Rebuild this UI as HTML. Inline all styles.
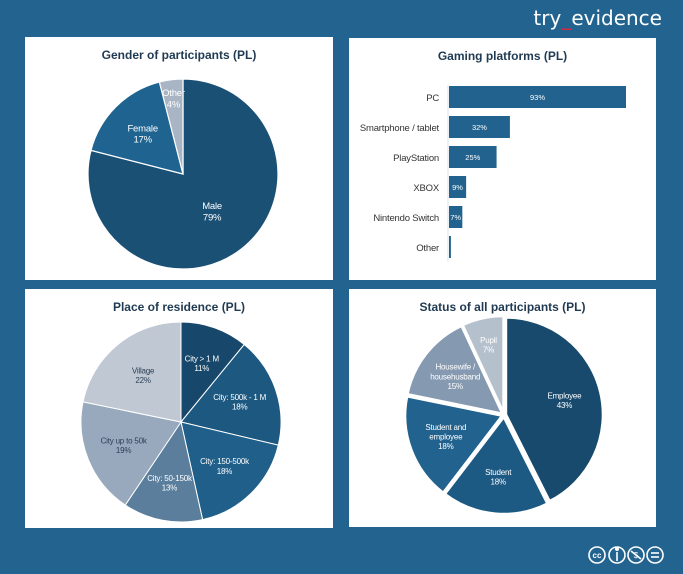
<!DOCTYPE html>
<html><head><meta charset="utf-8"><style>
body{margin:0;width:683px;height:574px;background:#22648f;overflow:hidden;font-family:"Liberation Sans",sans-serif;}
svg{display:block}
</style></head><body>
<svg width="683" height="574">
<g id="root"></g>
<text x="662" y="25" text-anchor="end" font-size="20" fill="#fff" font-family="DejaVu Sans, sans-serif">try<tspan fill="#e0223a">_</tspan>evidence</text>
<g fill="none" stroke="#fff" stroke-width="1.6">
<circle cx="597" cy="555" r="8"/><circle cx="617" cy="555" r="8"/><circle cx="636" cy="555" r="8"/><circle cx="655" cy="555" r="8"/>
<text x="597" y="558" font-size="8" text-anchor="middle" fill="#fff" stroke="none" font-weight="bold">cc</text>
<line x1="617" y1="552" x2="617" y2="561"/><circle cx="617" cy="549" r="1.2" fill="#fff"/>
<line x1="631" y1="551" x2="641" y2="559"/><text x="636" y="558" font-size="8" text-anchor="middle" fill="#fff" stroke="none">$</text>
<line x1="651" y1="553" x2="659" y2="553"/><line x1="651" y1="557" x2="659" y2="557"/>
</g>
</svg>
<script>
const genderLabels=["Male","Female","Other"];
const genderValues=[79,17,4];
const platformLabels=["PC","Smartphone / tablet","PlayStation","XBOX","Nintendo Switch","Other"];
const platformValues=[93,32,25,9,7,1];
const residenceLabels=[["City > 1 M"],["City: 500k - 1 M"],["City: 150-500k"],["City: 50-150k"],["City up to 50k"],["Village"]];
const residenceValues=[11,18,18,13,19,22];
const statusLabels=[["Employee"],["Student"],["Student and","employee"],["Housewife /","househusband"],["Pupil"]];
const statusValues=[43,18,18,15,7];

const NS="http://www.w3.org/2000/svg";
const root=document.getElementById('root');
function mk(tag,attrs,parent){const e=document.createElementNS(NS,tag);for(const k in attrs)e.setAttribute(k,attrs[k]);(parent||root).appendChild(e);return e;}
function panel(x,y,w,h,title,name){
  const g=mk('g',{});
  
  
  const r=mk('rect',{x:x,y:y,width:w,height:h,fill:'#fff'},g);
  
  
  const t=mk('text',{x:x+w/2,y:y+22,'text-anchor':'middle','font-size':12,'font-weight':'bold',fill:'#1f3a52'},g);
  t.textContent=title;
  
  
  return g;
}
function pie(g,cx,cy,r,vals,labels,colors,txtColors,gap,sw,lr,fs,lrs){
  const tot=vals.reduce((a,b)=>a+b,0);let a0=0;
  vals.forEach((v,i)=>{
    const a1=a0+v/tot*2*Math.PI;const mid=(a0+a1)/2;
    const ox=gap*Math.sin(mid),oy=-gap*Math.cos(mid);
    const x0=cx+ox+r*Math.sin(a0),y0=cy+oy-r*Math.cos(a0),x1=cx+ox+r*Math.sin(a1),y1=cy+oy-r*Math.cos(a1);
    const p=mk('path',{d:`M${cx+ox},${cy+oy}L${x0},${y0}A${r},${r} 0 ${a1-a0>Math.PI?1:0} 1 ${x1},${y1}Z`,fill:colors[i],stroke:'#fff','stroke-width':sw},g);
    
    
    const rr=(lrs&&lrs[i])||lr;
    const lx=cx+ox+r*rr*Math.sin(mid),ly=cy+oy-r*rr*Math.cos(mid);
    const lines=[].concat(labels[i],[v+'%']);
    const t=mk('text',{x:lx,y:ly-(lines.length-1)*fs*0.6+fs*0.35,'text-anchor':'middle','font-size':fs,fill:txtColors[i],'letter-spacing':-0.2},g);
    
    
    lines.forEach((s,j)=>{const ts=mk('tspan',{x:lx,dy:j?fs*1.2:0},t);ts.textContent=s;});
    a0=a1;
  });
}
// Gender
let g1=panel(25,37,308,243,'Gender of participants (PL)','gender-chart');
pie(g1,183,174,95,genderValues,genderLabels,['#1b5075','#1f6390','#a9b5c5'],['#fff','#fff','#fff'],0,1.2,0.5,9.5,[0.5,0.6,0.8]);
// Platforms
let g2=panel(349,38,307,242,'Gaming platforms (PL)','platforms-chart');
const x0=449,scale=177/93,bandTop=85,band=30;
platformValues.forEach((v,i)=>{
  const cy=bandTop+band*(i+0.5)-3;
  const b=mk('rect',{x:x0,y:cy-11,width:v*scale,height:22,fill:'#21638e'},g2);
  
  
  const l=mk('text',{x:x0-10,y:cy+4,'text-anchor':'end','font-size':9.5,fill:'#333','letter-spacing':-0.2},g2);
  l.textContent=platformLabels[i];
  
  
  if(v>3){const t=mk('text',{x:x0+v*scale/2,y:cy+3,'text-anchor':'middle','font-size':7.5,fill:'#fff'},g2);t.textContent=v+'%';
  
  }
});
const ax=mk('line',{x1:448,x2:448,y1:bandTop,y2:bandTop+band*6-3,stroke:'#dde3ea','stroke-width':1},g2);


// Residence
let g3=panel(25,289,308,239,'Place of residence (PL)','residence-chart');
pie(g3,181,422,100,residenceValues,residenceLabels,['#17476a','#1c5880','#1f5f89','#5a7e9c','#98a9bd','#c0c8d4'],['#fff','#fff','#fff','#fff','#2a3f55','#2a3f55'],0,1,0.62,8,[0.62,0.62,0.62,0.62,0.62,0.6]);
// Status
let g4=panel(349,289,307,238,'Status of all participants (PL)','status-chart');
pie(g4,504,415,97,statusValues,statusLabels,['#174a6c','#1d5a83','#22628e','#8599b0','#b5c0cd'],['#fff','#fff','#fff','#fff','#fff'],2,2.5,0.62,8,[0.62,0.62,0.62,0.62,0.72]);
</script>
</body></html>
